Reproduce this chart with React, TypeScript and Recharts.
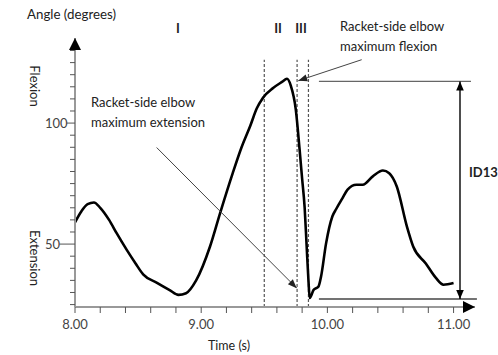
import { LineChart, Line, XAxis, YAxis, ReferenceLine } from "recharts";

// elbow angle trace
const times = [
  8.0, 8.05, 8.1, 8.15, 8.2, 8.27, 8.33, 8.41, 8.48, 8.54, 8.65, 8.75, 8.82, 8.88, 8.96,
  9.07, 9.15, 9.25, 9.32, 9.39, 9.44, 9.49, 9.57, 9.64, 9.68, 9.71, 9.75, 9.78, 9.8, 9.82,
  9.835, 9.85, 9.86, 9.89, 9.93, 9.95, 9.99, 10.04, 10.07, 10.12, 10.16, 10.23, 10.28, 10.36,
  10.44, 10.49, 10.55, 10.63, 10.68, 10.78, 10.86, 10.92, 11.0,
];
const angles = [
  59, 63.5, 66.5, 67.2, 65, 60, 54.5, 47.6, 42, 37.5, 34, 31, 29, 29.7, 35,
  49, 62.8, 79.3, 90, 99, 106, 110.5, 114.5, 117, 118.3, 115.5, 105.5, 89, 77, 65,
  50, 35, 27.7, 31, 32.5, 36.6, 50.4, 61.5, 64.5, 69, 72.5, 74.5, 74.5, 78,
  80.4, 79.3, 73.8, 57.3, 49, 42, 36, 33.2, 33.9,
];

const xTicks = [8.0, 8.2, 8.4, 8.6, 8.8, 9.0, 9.2, 9.4, 9.6, 9.8, 10.0, 10.2, 10.4, 10.6, 10.8, 11.0];
const xLabels: Record<number, string> = { 8: "8.00", 9: "9.00", 10: "10.00", 11: "11.00" };
const yTicks = [25, 30, 35, 40, 45, 50, 55, 60, 65, 70, 75, 80, 85, 90, 95, 100, 105, 110, 115, 120, 125, 130];
const yLabels: Record<number, string> = { 50: "50", 100: "100" };

// phase boundaries (s) and the top of the dashed lines
const phaseLines = [9.5, 9.76, 9.85];
const phaseTop = 126.2;
const maxFlexion = 117.2;
const maxExtension = 27.3;

const data = times.map((t, i) => ({ t, angle: angles[i] }));

const font = "Lato, 'Open Sans', sans-serif";

function headPoints(x1: number, y1: number, x2: number, y2: number, L: number, W: number) {
  const dx = x2 - x1, dy = y2 - y1;
  const len = Math.hypot(dx, dy) || 1;
  const ux = dx / len, uy = dy / len;
  const bx = x2 - ux * L, by = y2 - uy * L;
  return `${x2},${y2} ${bx - uy * W},${by + ux * W} ${bx + uy * W},${by - ux * W}`;
}

function arrowShape(color: string, width: number, L: number, W: number, both = false, lineColor?: string) {
  return (p: any) => {
    const { x1, y1, x2, y2 } = p;
    return (
      <g>
        <line x1={x1} y1={y1} x2={x2} y2={y2} stroke={lineColor || color} strokeWidth={width} />
        <polygon points={headPoints(x1, y1, x2, y2, L, W)} fill={color} />
        {both && <polygon points={headPoints(x2, y2, x1, y1, L, W)} fill={color} />}
      </g>
    );
  };
}

const XTick = (p: any) => {
  const { x, y, payload } = p;
  const v = Math.round(payload.value * 10) / 10;
  const lab = xLabels[v];
  return (
    <g>
      <line x1={x} y1={y} x2={x} y2={y + 6} stroke="#555" strokeWidth={1} />
      {lab && (
        <text x={x} y={y + 21.5} textAnchor="middle" fontSize={13} fill="#444" fontFamily={font}>
          {lab}
        </text>
      )}
    </g>
  );
};

const YTick = (p: any) => {
  const { x, y, payload } = p;
  const lab = yLabels[payload.value];
  if (lab) {
    const len = 30 - lab.length * 7.2;
    return (
      <g>
        <line x1={x - len} y1={y} x2={x} y2={y} stroke="#555" strokeWidth={1} />
        <text x={x - 30} y={y + 4.5} fontSize={13} fill="#444" fontFamily={font}>
          {lab}
        </text>
      </g>
    );
  }
  return <line x1={x - 5} y1={y} x2={x} y2={y} stroke="#555" strokeWidth={1} />;
};

export default function App() {
  return (
    <div style={{ position: "absolute", left: 0, top: 0, background: "#fff" }}>
      <LineChart width={498} height={355} data={data} margin={{ top: 38.4, right: 19.2, left: 35, bottom: 18 }}>
        <XAxis
          dataKey="t"
          type="number"
          domain={[8, 11.2]}
          allowDataOverflow
          ticks={xTicks}
          interval={0}
          axisLine={false}
          tickLine={false}
          tickSize={0}
          tickMargin={0}
          height={30}
          tick={<XTick />}
        />
        <YAxis
          type="number"
          domain={[24, 135]}
          allowDataOverflow
          ticks={yTicks}
          interval={0}
          axisLine={false}
          tickLine={false}
          tickSize={0}
          tickMargin={0}
          width={40}
          tick={<YTick />}
        />

        {phaseLines.map((px) => (
          <ReferenceLine
            key={px}
            segment={[{ x: px, y: 24 }, { x: px, y: phaseTop }]}
            stroke="#555"
            strokeWidth={1.2}
            strokeDasharray="3 2"
            ifOverflow="visible"
          />
        ))}

        <Line
          type="monotone"
          dataKey="angle"
          stroke="#000"
          strokeWidth={2.6}
          dot={false}
          isAnimationActive={false}
        />

        {/* axes with arrow heads */}
        <ReferenceLine
          segment={[{ x: 8, y: 24 }, { x: 8, y: 135.2 }]}
          ifOverflow="visible"
          shape={arrowShape("#000", 2, 12, 6, false, "#999")}
        />
        <ReferenceLine
          segment={[{ x: 8, y: 24 }, { x: 11.17, y: 24 }]}
          ifOverflow="visible"
          shape={arrowShape("#000", 2, 12, 6, false, "#999")}
        />

        {/* ID13 range markers */}
        <ReferenceLine segment={[{ x: 9.933, y: maxFlexion }, { x: 11.138, y: maxFlexion }]} stroke="#666" strokeWidth={1.3} ifOverflow="visible" />
        <ReferenceLine segment={[{ x: 9.933, y: maxExtension }, { x: 11.185, y: maxExtension }]} stroke="#444" strokeWidth={1.3} ifOverflow="visible" />
        <ReferenceLine
          segment={[{ x: 11.051, y: maxExtension }, { x: 11.051, y: maxFlexion }]}
          ifOverflow="visible"
          shape={arrowShape("#000", 1.4, 9, 3.8, true)}
        />

        {/* annotation arrows */}
        <ReferenceLine
          segment={[{ x: 10.272, y: phaseTop }, { x: 9.769, y: 117.5 }]}
          ifOverflow="visible"
          shape={arrowShape("#222", 1, 9, 3.5, false, "#444")}
        />
        <ReferenceLine
          segment={[{ x: 8.647, y: 89.9 }, { x: 9.757, y: 31.8 }]}
          ifOverflow="visible"
          shape={arrowShape("#222", 1, 9, 3.5, false, "#444")}
        />

        <g fontFamily={font} fill="#222">
          <text x={27} y={19} fontSize={13.3}>Angle (degrees)</text>
          <text x={178} y={33} fontSize={13} fontWeight="bold" textAnchor="middle">I</text>
          <text x={278} y={33} fontSize={13} fontWeight="bold" textAnchor="middle">II</text>
          <text x={301} y={33} fontSize={13} fontWeight="bold" textAnchor="middle">III</text>
          <text x={340} y={31} fontSize={13}>Racket-side elbow</text>
          <text x={340} y={50.5} fontSize={13}>maximum flexion</text>
          <text x={91} y={107} fontSize={13}>Racket-side elbow</text>
          <text x={91} y={126.5} fontSize={13}>maximum extension</text>
          <text x={469} y={177} fontSize={13} fontWeight="bold">ID13</text>
          <text x={208} y={349.5} fontSize={12.5}>Time (s)</text>
          <text x={35} y={86} fontSize={13} textAnchor="middle" dominantBaseline="central" transform="rotate(90 35 86)">Flexion</text>
          <text x={35} y={258} fontSize={13} textAnchor="middle" dominantBaseline="central" transform="rotate(90 35 258)">Extension</text>
        </g>
      </LineChart>
    </div>
  );
}
